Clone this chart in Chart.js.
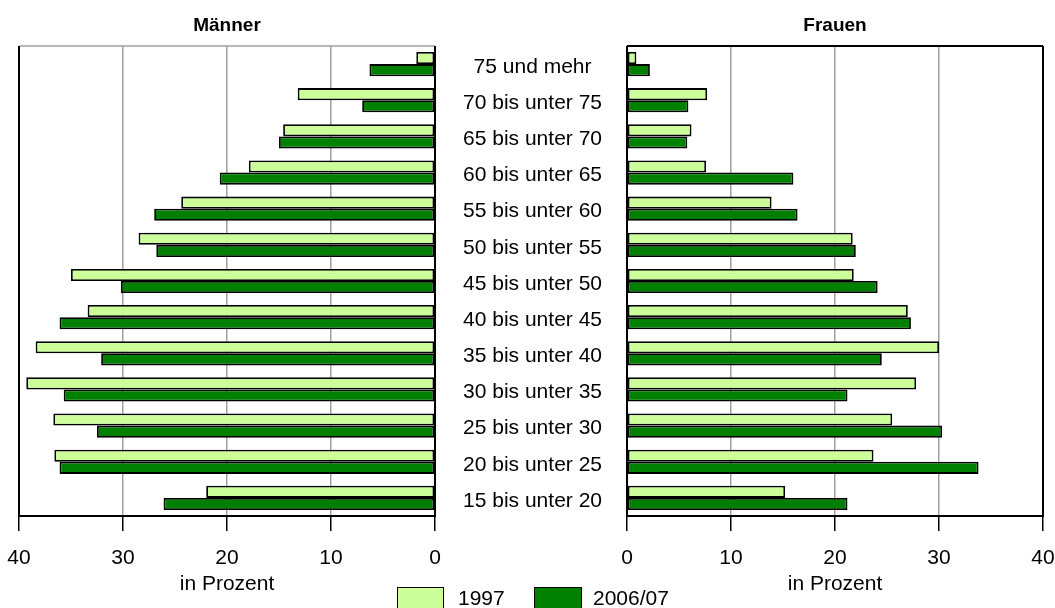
<!DOCTYPE html>
<html lang="de">
<head>
<meta charset="utf-8">
<script src="https://cdn.jsdelivr.net/npm/chart.js@4.4.0/dist/chart.umd.min.js"></script>
<style>
  body { margin: 0; background: #fff; width: 1055px; height: 608px; overflow: hidden; position: relative;
         font-family: "Liberation Sans", Arial, sans-serif; }
  #menChart { position: absolute; left: 0; top: 0; }
  #womenChart { position: absolute; left: 435px; top: 0; }
  .legend-box { position: absolute; top: 587px; height: 26px; box-sizing: border-box; border: 1.5px solid #000; }
  .legend-text { position: absolute; top: 587px; font-size: 21px; line-height: 22px; color: #000; }
</style>
</head>
<body>
<canvas id="menChart" width="455" height="608"></canvas>
<canvas id="womenChart" width="620" height="608"></canvas>

<div class="legend-box" style="left:397px;width:47px;background:#ccff99"></div>
<div class="legend-text" id="leg0" style="left:458px"></div>
<div class="legend-box" style="left:534px;width:48px;background:#008000"></div>
<div class="legend-text" id="leg1" style="left:593px"></div>

<script>
const ageGroups = [
  '75 und mehr', '70 bis unter 75', '65 bis unter 70', '60 bis unter 65',
  '55 bis unter 60', '50 bis unter 55', '45 bis unter 50', '40 bis unter 45',
  '35 bis unter 40', '30 bis unter 35', '25 bis unter 30', '20 bis unter 25',
  '15 bis unter 20'
];
const seriesNames = ['1997', '2006/07'];

// Männer, in Prozent
const men1997 = [1.8, 13.2, 14.6, 17.9, 24.4, 28.5, 35.0, 33.4, 38.4, 39.3, 36.7, 36.6, 22.0];
const men2006 = [6.3, 7.0, 15.0, 20.7, 27.0, 26.8, 30.2, 36.1, 32.1, 35.7, 32.5, 36.1, 26.1];

// Frauen, in Prozent
const women1997 = [0.9, 7.7, 6.2, 7.6, 13.9, 21.7, 21.8, 27.0, 30.0, 27.8, 25.5, 23.7, 15.2];
const women2006 = [2.2, 5.9, 5.8, 16.0, 16.4, 22.0, 24.1, 27.3, 24.5, 21.2, 30.3, 33.8, 21.2];

const xMin = 0;
const xMax = 40;
const xStep = 10;

const colors = {
  light: '#ccff99',
  dark: '#008000',
  grid: '#a0a0a0',
  axis: '#000000',
  text: '#000000'
};

const FONT = '"Liberation Sans", Arial, sans-serif';

// draws the frame round the plot area (each side its own colour)
const framePlugin = {
  id: 'frame',
  afterDatasetsDraw(chart, args, opts) {
    const { ctx, chartArea: a } = chart;
    const sides = opts.sides || {};
    const line = (x1, y1, x2, y2, color) => {
      ctx.beginPath();
      ctx.moveTo(x1, y1);
      ctx.lineTo(x2, y2);
      ctx.strokeStyle = color;
      ctx.lineWidth = color === colors.axis ? 2 : 1.5;
      ctx.stroke();
    };
    ctx.save();
    if (sides.top) line(a.left, a.top, a.right, a.top, sides.top);
    if (sides.left) line(a.left, a.top, a.left, a.bottom, sides.left);
    if (sides.right) line(a.right, a.top, a.right, a.bottom, sides.right);
    if (sides.bottom) line(a.left - 1, a.bottom, a.right + 1, a.bottom, sides.bottom);
    ctx.restore();
  }
};

function makeDatasets(values1997, values2006) {
  return [
    {
      label: seriesNames[0],
      data: values1997,
      backgroundColor: colors.light,
      borderColor: colors.axis,
      borderWidth: 1.8,
      borderSkipped: false,
      categoryPercentage: 0.67,
      barPercentage: 1.0
    },
    {
      label: seriesNames[1],
      data: values2006,
      backgroundColor: colors.dark,
      borderColor: colors.axis,
      borderWidth: 1.8,
      borderSkipped: false,
      categoryPercentage: 0.67,
      barPercentage: 1.0
    }
  ];
}

function xScale(reverse) {
  return {
    type: 'linear',
    position: 'bottom',
    reverse: reverse,
    min: xMin,
    max: xMax,
    afterFit(scale) {
      scale.height = 92;
      scale.paddingLeft = 0;
      scale.paddingRight = 0;
    },
    ticks: {
      stepSize: xStep,
      padding: 15,
      color: colors.text,
      font: { family: FONT, size: 21 },
      maxRotation: 0
    },
    grid: {
      color: ctx => (ctx.tick && ctx.tick.value > xMin && ctx.tick.value < xMax) ? colors.grid : 'rgba(0,0,0,0)',
      tickColor: colors.axis,
      lineWidth: 1.5,
      tickLength: 15,
      drawOnChartArea: true
    },
    border: { display: false },
    title: {
      display: true,
      text: 'in Prozent',
      color: colors.text,
      font: { family: FONT, size: 21 },
      padding: { top: 0, bottom: 11 }
    }
  };
}

function titleOpts(text) {
  return {
    display: true,
    text: text,
    fullSize: false,
    color: colors.text,
    font: { family: FONT, size: 19, weight: 'bold' },
    padding: { top: 14, bottom: 9.2 }
  };
}

new Chart(document.getElementById('menChart'), {
  type: 'bar',
  data: { labels: ageGroups, datasets: makeDatasets(men1997, men2006) },
  plugins: [framePlugin],
  options: {
    indexAxis: 'y',
    responsive: false,
    animation: false,
    layout: { padding: { left: 19, right: 20, top: 0, bottom: 0 } },
    scales: {
      x: xScale(true),
      y: { display: false }
    },
    plugins: {
      legend: { display: false },
      tooltip: { enabled: false },
      title: titleOpts('Männer'),
      frame: { sides: { top: colors.grid, left: colors.axis, right: colors.axis, bottom: colors.axis } }
    }
  }
});

new Chart(document.getElementById('womenChart'), {
  type: 'bar',
  data: { labels: ageGroups, datasets: makeDatasets(women1997, women2006) },
  plugins: [framePlugin],
  options: {
    indexAxis: 'y',
    responsive: false,
    animation: false,
    layout: { padding: { left: 0, right: 12, top: 0, bottom: 0 } },
    scales: {
      x: xScale(false),
      y: {
        position: 'left',
        afterFit(scale) { scale.width = 192; },
        ticks: {
          crossAlign: 'center',
          padding: 25,
          labelOffset: 3,
          color: colors.text,
          font: { family: FONT, size: 21 }
        },
        grid: { display: false, drawTicks: false },
        border: { display: false }
      }
    },
    plugins: {
      legend: { display: false },
      tooltip: { enabled: false },
      title: titleOpts('Frauen'),
      frame: { sides: { top: colors.axis, left: colors.axis, right: colors.axis, bottom: colors.axis } }
    }
  }
});

document.getElementById('leg0').textContent = seriesNames[0];
document.getElementById('leg1').textContent = seriesNames[1];
</script>
</body>
</html>
